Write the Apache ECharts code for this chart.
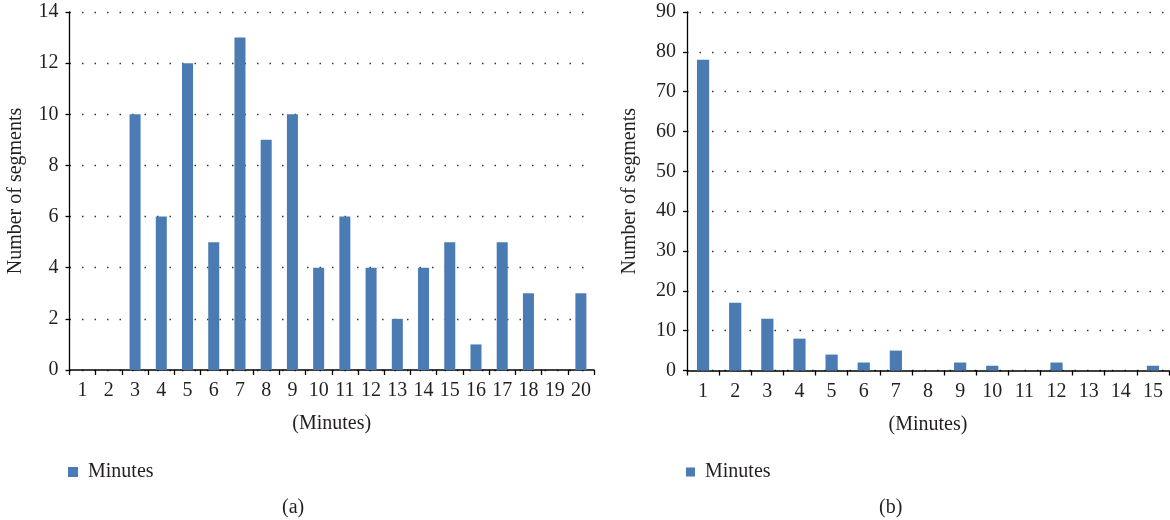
<!DOCTYPE html>
<html>
<head>
<meta charset="utf-8">
<script src="https://cdn.jsdelivr.net/npm/echarts@6/dist/echarts.min.js"></script>
<style>
html,body{margin:0;padding:0;background:#fff;}
#c{width:1170px;height:520px;}
</style>
</head>
<body>
<div id="c"></div>
<script>
// Data
const catsA = ['1','2','3','4','5','6','7','8','9','10','11','12','13','14','15','16','17','18','19','20'];
const valsA = [0,0,10,6,12,5,13,9,10,4,6,4,2,4,5,1,5,3,0,3];
const catsB = ['1','2','3','4','5','6','7','8','9','10','11','12','13','14','15'];
const valsB = [78,17,13,8,4,2,5,0,2,1.2,0,2,0,0,1.2];
const seriesName = 'Minutes';
const xName = '(Minutes)';
const yName = 'Number of segments';
const captions = ['(a)', '(b)'];

const FONT = 'Liberation Serif';
const TXT = '#231f20';
const BAR = '#4a7bb3';
const FS = 20;

const chart = echarts.init(document.getElementById('c'), null, {renderer: 'canvas'});

function yAxis(gridIndex, max, interval, nameGap) {
  return {
    type: 'value', gridIndex, min: 0, max, interval,
    name: yName, nameLocation: 'middle', nameGap, nameRotate: 90,
    nameTextStyle: {fontFamily: FONT, fontSize: FS, color: TXT},
    axisLine: {show: true, lineStyle: {color: '#000', width: 1.3}},
    axisTick: {show: true, length: 4, lineStyle: {color: '#000', width: 1.3}},
    axisLabel: {fontFamily: FONT, fontSize: FS, color: TXT, margin: 11},
    splitLine: {show: true, lineStyle: {color: '#333', width: 1.3, type: [1.5, 11]}}
  };
}
function xAxis(gridIndex, data) {
  return {
    type: 'category', gridIndex, data, boundaryGap: true,
    name: xName, nameLocation: 'middle', nameGap: 44,
    nameTextStyle: {fontFamily: FONT, fontSize: FS, color: TXT},
    axisLine: {show: true, lineStyle: {color: '#000', width: 1.5}},
    axisTick: {show: true, length: 5, alignWithLabel: false, interval: 0, lineStyle: {color: '#000', width: 1.3}},
    axisLabel: {fontFamily: FONT, fontSize: FS, color: TXT, margin: 11, interval: 0},
    splitLine: {show: false}
  };
}

chart.setOption({
  backgroundColor: '#fff',
  animation: false,
  grid: [
    {left: 69.5, top: 12, width: 524.5, height: 358, containLabel: false},
    {left: 687, top: 12, width: 482, height: 358.5, containLabel: false}
  ],
  xAxis: [xAxis(0, catsA), xAxis(1, catsB)],
  yAxis: [yAxis(0, 14, 2, 44), yAxis(1, 90, 10, 47)],
  legend: [
    {left: 68, top: 462, padding: 0, icon: 'rect', itemWidth: 10, itemHeight: 10, data: [seriesName],
     selectedMode: false,
     textStyle: {fontFamily: FONT, fontSize: FS, color: TXT, padding: [0, 0, 0, 5]}},
    {left: 686, top: 462, padding: 0, icon: 'rect', itemWidth: 9, itemHeight: 9, data: [seriesName],
     selectedMode: false,
     textStyle: {fontFamily: FONT, fontSize: FS, color: TXT, padding: [0, 0, 0, 5]}}
  ],
  graphic: [
    {type: 'text', left: 282, top: 498, style: {text: captions[0], font: FS + 'px "' + FONT + '"', fill: TXT}},
    {type: 'text', left: 879, top: 498, style: {text: captions[1], font: FS + 'px "' + FONT + '"', fill: TXT}}
  ],
  series: [
    {type: 'bar', name: seriesName, xAxisIndex: 0, yAxisIndex: 0, data: valsA, barWidth: '42%', itemStyle: {color: BAR}},
    {type: 'bar', name: seriesName, xAxisIndex: 1, yAxisIndex: 1, data: valsB, barWidth: '38%', itemStyle: {color: BAR}}
  ]
});
</script>
</body>
</html>
